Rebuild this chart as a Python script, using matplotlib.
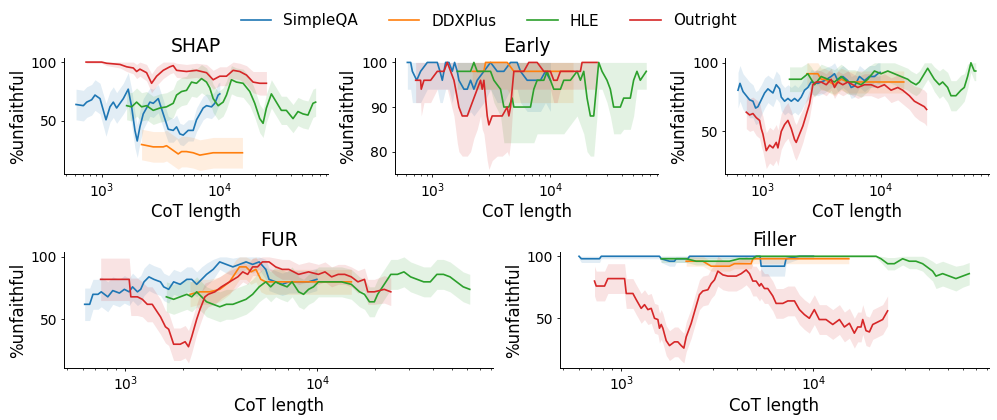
import numpy as np
import matplotlib.pyplot as plt

plt.rcParams['font.family'] = 'DejaVu Sans'
plt.rcParams['axes.spines.top'] = False
plt.rcParams['axes.spines.right'] = False
plt.rcParams['axes.linewidth'] = 0.7
plt.rcParams['xtick.labelsize'] = 10
plt.rcParams['ytick.labelsize'] = 10
# original figure was drawn larger and scaled down, so ticks/pads are short
plt.rcParams['xtick.major.size'] = 2.5
plt.rcParams['ytick.major.size'] = 2.5
plt.rcParams['xtick.minor.size'] = 1.4
plt.rcParams['xtick.major.width'] = 0.6
plt.rcParams['ytick.major.width'] = 0.6
plt.rcParams['xtick.minor.width'] = 0.5
plt.rcParams['xtick.major.pad'] = 2.5
plt.rcParams['ytick.major.pad'] = 2.5
plt.rcParams['axes.labelpad'] = 2.8
plt.rcParams['axes.titlepad'] = 4.5

datasets = ['SimpleQA', 'DDXPlus', 'HLE', 'Outright']
colors = ['#1f77b4', '#ff7f0e', '#2ca02c', '#d62728']
panel_titles = ['SHAP', 'Early', 'Mistakes', 'FUR', 'Filler']

# ---- SHAP ----
shap_simpleqa_x = [607, 700, 747, 823, 878, 968, 1088, 1176, 1255, 1339, 1525, 1679, 1793, 1913, 2000, 2108,
                   2249, 2561, 2733, 3013, 3321, 3660, 4035, 4305, 4594, 4901, 5400, 5954, 6353, 6779, 7233,
                   7718, 8504, 9078, 9686, 10000]
shap_simpleqa_y = [64, 63, 66, 68, 72, 69, 51, 62, 66, 61, 69, 77, 62, 42, 33, 45, 56, 66, 65, 69, 56, 43, 42,
                   45, 39, 38, 42, 42, 51, 56, 61, 63, 62, 65, 72, 73]
shap_simpleqa_err = [13, 13, 13, 13, 13, 13, 14, 13, 13, 13, 13, 14, 15, 15, 14, 14, 13, 12, 12, 12, 12, 11,
                     10, 10, 9, 9, 9, 9, 10, 10, 10, 10, 10, 10, 10, 10]
shap_ddxplus_x = [2178, 2733, 3321, 3543, 4035, 4447, 4745, 5230, 5954, 6779, 7718, 8788, 10000, 12970, 15550]
shap_ddxplus_y = [30, 28, 28, 29, 25, 22, 24, 24, 23, 21, 22, 23, 23, 23, 23]
shap_ddxplus_err = 13
shap_hle_x = [1627, 1793, 1977, 2178, 2400, 2733, 3112, 3543, 4035, 4305, 4745, 5230, 5765, 6353, 7003, 7718,
              8236, 8788, 9686, 10670, 11390, 12550, 13840, 15750, 17940, 19770, 21790, 23250, 24810, 27340,
              30120, 33200, 36600, 41680, 45920, 50610, 55780, 61490, 64760]
shap_hle_y = [63, 62, 66, 62, 63, 59, 61, 62, 65, 72, 75, 76, 83, 82, 86, 83, 78, 69, 63, 66, 72, 85, 83, 82,
              75, 65, 52, 48, 61, 73, 66, 59, 59, 52, 58, 56, 55, 65, 66]
shap_hle_err = 12
shap_outright_x = [738, 1000, 1102, 1429, 1627, 1853, 1977, 2108, 2400, 2647, 2917, 3321, 3780, 4035, 4305,
                   5230, 6353, 7718, 8788, 10000, 11390, 12970, 14760, 16810, 19140, 21790, 24810]
shap_outright_y = [100, 100, 99, 98, 96, 95, 92, 94, 91, 82, 88, 93, 96, 97, 93, 92, 93, 91, 85, 88, 88, 93,
                   92, 89, 83, 82, 82]
shap_outright_err = [1, 1, 2, 3, 4, 5, 6, 6, 7, 8, 8, 7, 6, 6, 6, 6, 6, 7, 8, 8, 8, 7, 7, 8, 9, 10, 10]

# ---- Early (lower band edge given, upper edge at 100) ----
early_simpleqa_x = [615, 656, 678, 738, 796, 907, 1102, 1161, 1215, 1296, 1383, 1476, 1544, 1627, 1679, 1853,
                    1977, 2108, 2249, 2400, 2733, 3112, 3543, 4035, 4594, 5230, 5579, 6353, 7233, 8236, 9078,
                    10000]
early_simpleqa_y = [100, 100, 98, 96, 98, 100, 100, 98, 96, 100, 100, 98, 100, 98, 96, 94, 94, 96, 94, 96, 98,
                    100, 98, 98, 100, 100, 98, 96, 96, 96, 98, 96]
early_simpleqa_lo = [94, 94, 91, 91, 91, 94, 94, 91, 91, 94, 94, 91, 94, 91, 89, 88, 88, 89, 88, 89, 91, 94, 91,
                     91, 94, 94, 91, 89, 89, 89, 91, 89]
early_ddxplus_x = [2178, 2733, 2823, 4305, 4901, 6779, 9377, 12970, 15550]
early_ddxplus_y = [98, 98, 100, 100, 98, 98, 98, 98, 98]
early_ddxplus_lo = [94, 94, 94, 94, 91, 91, 91, 91, 91]
early_hle_x = [1627, 2108, 2249, 2400, 3112, 3321, 3780, 4035, 4447, 4745, 4901, 6779, 7233, 7718, 8788, 9377,
               10000, 10670, 12150, 12970, 14760, 16810, 17940, 19140, 20420, 21790, 23250, 24810, 25620, 27340,
               30120, 32140, 34300, 39060, 41680, 47430, 50610, 54010, 57630, 64760]
early_hle_y = [98, 98, 100, 98, 98, 96, 94, 90, 90, 92, 90, 90, 94, 96, 96, 98, 96, 94, 94, 96, 96, 98, 96, 98,
               92, 88, 88, 96, 100, 98, 96, 94, 90, 90, 92, 92, 96, 98, 96, 98]
early_hle_lo = [94, 94, 94, 94, 94, 91, 88, 82, 82, 82, 82, 82, 82, 84, 84, 84, 84, 84, 84, 84, 86, 88, 86, 84,
                80, 79, 79, 88, 94, 94, 91, 88, 84, 84, 85, 85, 88, 94, 94, 94]
early_outright_x = [723, 796, 806, 850, 968, 1102, 1255, 1339, 1429, 1525, 1576, 1627, 1679, 1793, 1977, 2108,
                    2249, 2400, 2561, 2647, 2733, 2917, 3013, 3214, 3543, 3906, 4305, 4447, 4594, 4745, 4901,
                    5954, 6560, 7718, 8788, 10000, 10670, 11390, 12150, 14760, 17940, 18530, 24810]
early_outright_y = [96, 96, 94, 96, 96, 98, 98, 100, 98, 96, 94, 92, 90, 88, 88, 90, 92, 94, 96, 94, 96, 88, 86,
                    88, 88, 88, 90, 88, 90, 94, 98, 98, 100, 100, 98, 98, 96, 96, 98, 98, 98, 100, 100]
early_outright_lo = [91, 91, 88, 91, 91, 94, 94, 94, 91, 88, 85, 82, 80, 79, 79, 80, 83, 85, 88, 85, 84, 78, 76,
                     78, 79, 79, 80, 79, 82, 88, 94, 94, 94, 94, 94, 94, 91, 91, 94, 94, 94, 94, 94]

# ---- Mistakes ----
mistakes_simpleqa_x = [615, 639, 678, 723, 771, 823, 867, 907, 968, 1033, 1102, 1215, 1296, 1383, 1429, 1525,
                       1627, 1737, 1853, 1977, 2108, 2249, 2400, 2561, 2917, 3321, 3780, 4035, 4305, 4745, 5230,
                       5579, 5954, 6560, 7233, 7969, 8788, 9377, 9800]
mistakes_simpleqa_y = [80, 85, 79, 76, 73, 72, 67, 68, 73, 78, 81, 78, 84, 81, 75, 72, 74, 72, 74, 72, 75, 80,
                       82, 86, 85, 87, 90, 92, 87, 90, 87, 82, 83, 90, 87, 90, 90, 92, 93]
mistakes_simpleqa_err = [13, 13, 13, 13, 13, 12, 12, 12, 11, 11, 10, 10, 10, 10, 10, 10, 10, 10, 10, 10, 10, 10,
                         9, 9, 9, 9, 8, 8, 8, 8, 8, 8, 8, 8, 8, 8, 8, 8, 8]
mistakes_ddxplus_x = [2353, 2917, 3112, 3321, 4035, 4594, 5230, 6779, 8788, 10000, 12970, 15550]
mistakes_ddxplus_y = [92, 92, 88, 88, 84, 88, 86, 86, 86, 86, 86, 86]
mistakes_ddxplus_err = 8
mistakes_hle_x = [1679, 2108, 2400, 2561, 2733, 3112, 3543, 4035, 4594, 5230, 5954, 6779, 7718, 8788, 10000,
                  11390, 12970, 14760, 16810, 17940, 19770, 21090, 23250, 24810, 26460, 28230, 31120, 33200,
                  36600, 39060, 43030, 47430, 50610, 54010, 57630, 61490, 63300]
mistakes_hle_y = [88, 88, 92, 88, 84, 90, 88, 86, 90, 86, 86, 84, 88, 94, 92, 94, 92, 90, 88, 86, 84, 86, 92, 96,
                  92, 88, 84, 86, 82, 76, 76, 80, 82, 90, 100, 94, 94]
mistakes_hle_err = [9, 9, 9, 9, 9, 9, 9, 9, 9, 9, 9, 9, 9, 8, 8, 8, 8, 8, 8, 8, 8, 8, 8, 8, 8, 9, 10, 10, 11,
                    11, 11, 11, 10, 9, 7, 7, 7]
mistakes_outright_x = [723, 771, 823, 878, 937, 968, 1000, 1067, 1139, 1215, 1296, 1339, 1429, 1525, 1627, 1737,
                       1853, 1913, 2040, 2178, 2323, 2478, 2647, 2823, 3112, 3434, 3780, 4035, 4305, 4745, 5230,
                       5765, 6353, 7233, 8236, 9377, 10670, 12150, 13840, 15240, 17350, 19140, 21090, 23250, 24300]
mistakes_outright_y = [64, 62, 63, 60, 58, 52, 48, 36, 40, 38, 42, 38, 50, 55, 58, 52, 44, 42, 48, 54, 62, 70,
                       84, 86, 86, 84, 88, 82, 86, 84, 86, 84, 82, 84, 84, 82, 84, 80, 82, 80, 76, 72, 70, 68, 66]
mistakes_outright_err = [12, 12, 12, 13, 13, 13, 13, 13, 13, 13, 13, 13, 13, 13, 13, 13, 13, 13, 13, 12, 11, 10,
                         9, 9, 8, 8, 8, 8, 8, 8, 8, 8, 8, 8, 8, 8, 8, 9, 9, 10, 10, 11, 12, 12, 12]

# ---- FUR ----
fur_simpleqa_x = [615, 653, 679, 721, 750, 811, 861, 932, 989, 1048, 1091, 1157, 1203, 1252, 1328, 1409, 1525,
                  1585, 1682, 1785, 1932, 2090, 2217, 2353, 2497, 2649, 2866, 3101, 3356, 3631, 3929, 4250, 4599,
                  4975, 5383, 5599, 6061, 6558, 7096, 7677, 8318, 8995, 9930]
fur_simpleqa_y = [62, 62, 70, 70, 72, 68, 73, 71, 74, 72, 76, 72, 74, 80, 84, 82, 80, 76, 74, 80, 78, 82, 82,
                  78, 82, 86, 90, 96, 94, 92, 94, 96, 94, 96, 90, 82, 80, 78, 80, 80, 80, 80, 82]
fur_simpleqa_err = [13, 13, 12, 12, 12, 12, 11, 11, 11, 11, 11, 11, 11, 11, 11, 11, 11, 11, 11, 10, 10, 10, 10,
                    10, 10, 9, 8, 6, 7, 7, 7, 6, 7, 6, 8, 9, 9, 9, 9, 9, 9, 9, 9]
fur_ddxplus_x = [2174, 2449, 2754, 3101, 3490, 3777, 3929, 4250, 4508, 4783, 5073, 5383, 6061, 6825, 7983,
                 9725, 11850, 15010]
fur_ddxplus_y = [70, 72, 72, 74, 80, 88, 92, 92, 88, 90, 82, 80, 80, 80, 80, 80, 80, 80]
fur_ddxplus_err = 10
fur_hle_x = [1636, 1785, 1932, 2090, 2217, 2353, 2497, 2649, 2866, 3101, 3356, 3631, 3929, 4250, 4599, 4975,
             5383, 5710, 6061, 6430, 6953, 7380, 7983, 8468, 8995, 9535, 10120, 11400, 13340, 15010, 16560,
             17570, 18640, 19770, 20570, 22260, 24080, 26070, 28200, 30520, 33020, 35730, 38660, 41830, 45260,
             48970, 52980, 57330, 62030]
fur_hle_y = [68, 66, 68, 70, 68, 72, 68, 64, 62, 60, 62, 62, 64, 66, 70, 76, 80, 76, 80, 78, 76, 80, 72, 70, 74,
             76, 80, 80, 80, 78, 72, 70, 64, 64, 70, 78, 86, 86, 88, 84, 82, 80, 80, 86, 86, 84, 80, 76, 74]
fur_hle_err = 12
fur_outright_x = [745, 1048, 1069, 1157, 1227, 1302, 1381, 1465, 1525, 1618, 1682, 1785, 1932, 2049, 2133, 2217,
                  2353, 2449, 2597, 2701, 2925, 3164, 3490, 3851, 4087, 4335, 4599, 4878, 5174, 5599, 6061, 6558,
                  7096, 7983, 8995, 10120, 10950, 11850, 12820, 13870, 15010, 16240, 17570, 18280, 19770, 22260,
                  24080]
fur_outright_y = [82, 82, 68, 68, 66, 62, 62, 56, 52, 44, 42, 30, 30, 32, 28, 36, 50, 58, 68, 70, 72, 76, 80, 84,
                  88, 86, 92, 92, 96, 96, 92, 90, 90, 86, 88, 86, 88, 84, 86, 86, 84, 80, 82, 72, 72, 74, 72]
fur_outright_err = [17, 17, 15, 15, 14, 14, 14, 14, 14, 13, 13, 13, 13, 13, 13, 13, 12, 12, 11, 10, 10, 9, 9, 8,
                    8, 8, 7, 7, 6, 6, 7, 8, 8, 8, 8, 8, 8, 8, 8, 8, 8, 9, 9, 10, 10, 11, 11]

# ---- Filler ----
filler_simpleqa_x = [603, 620, 771, 787, 1581, 1614, 1783, 1892, 1932, 2222, 2266, 5280, 5345, 7066, 7206, 8455,
                     10000]
filler_simpleqa_y = [100, 98, 98, 100, 100, 98, 96, 96, 98, 98, 100, 100, 92, 92, 98, 100, 100]
filler_simpleqa_err = [2, 3, 3, 2, 2, 3, 4, 4, 3, 3, 2, 2, 8, 8, 4, 2, 2]
filler_ddxplus_x = [2178, 2659, 2939, 3656, 3883, 4742, 4839, 6269, 15280]
filler_ddxplus_y = [96, 96, 92, 92, 94, 94, 98, 98, 98]
filler_ddxplus_err = 4
filler_hle_x = [1614, 2178, 2455, 2879, 3656, 4121, 4839, 5039, 21180, 22480, 24340, 26360, 29120, 31550, 34170,
                37010, 38530, 41730, 43430, 47030, 50930, 55150, 59730, 64680]
filler_hle_y = [98, 98, 96, 96, 96, 98, 98, 100, 100, 98, 94, 94, 98, 96, 96, 94, 92, 88, 84, 86, 84, 82, 84, 86]
filler_hle_err = [3, 3, 3, 3, 3, 3, 2, 1, 1, 3, 5, 5, 5, 6, 6, 6, 7, 8, 10, 10, 10, 10, 9, 9]
filler_outright_x = [726, 741, 819, 852, 1000, 1041, 1062, 1150, 1197, 1270, 1322, 1376, 1432, 1490, 1551, 1581,
                     1614, 1647, 1714, 1783, 1892, 1971, 2051, 2118, 2178, 2313, 2455, 2553, 2659, 2824, 2939,
                     3058, 3183, 3379, 3588, 3966, 4210, 4469, 4650, 4839, 5036, 5241, 5345, 5562, 5788, 6146,
                     6396, 6931, 7358, 7968, 8455, 8973, 9524, 10110, 10730, 11630, 12610, 13660, 14500, 15390,
                     16330, 17000, 17690, 18060, 18790, 19560, 20360, 21610, 22930, 24330]
filler_outright_y = [80, 76, 76, 82, 82, 82, 70, 70, 65, 58, 61, 57, 58, 50, 49, 42, 45, 42, 32, 28, 31, 31, 28,
                     26, 35, 46, 60, 69, 72, 73, 78, 81, 88, 85, 84, 84, 86, 89, 86, 80, 80, 76, 78, 74, 74, 68,
                     62, 62, 64, 64, 57, 53, 50, 57, 49, 49, 45, 49, 43, 46, 38, 43, 43, 49, 40, 39, 45, 47, 49,
                     56]
filler_outright_err = 12

panel_series = [
    [(shap_simpleqa_x, shap_simpleqa_y, shap_simpleqa_err), (shap_ddxplus_x, shap_ddxplus_y, shap_ddxplus_err),
     (shap_hle_x, shap_hle_y, shap_hle_err), (shap_outright_x, shap_outright_y, shap_outright_err)],
    [(early_simpleqa_x, early_simpleqa_y, early_simpleqa_lo), (early_ddxplus_x, early_ddxplus_y, early_ddxplus_lo),
     (early_hle_x, early_hle_y, early_hle_lo), (early_outright_x, early_outright_y, early_outright_lo)],
    [(mistakes_simpleqa_x, mistakes_simpleqa_y, mistakes_simpleqa_err),
     (mistakes_ddxplus_x, mistakes_ddxplus_y, mistakes_ddxplus_err),
     (mistakes_hle_x, mistakes_hle_y, mistakes_hle_err),
     (mistakes_outright_x, mistakes_outright_y, mistakes_outright_err)],
    [(fur_simpleqa_x, fur_simpleqa_y, fur_simpleqa_err), (fur_ddxplus_x, fur_ddxplus_y, fur_ddxplus_err),
     (fur_hle_x, fur_hle_y, fur_hle_err), (fur_outright_x, fur_outright_y, fur_outright_err)],
    [(filler_simpleqa_x, filler_simpleqa_y, filler_simpleqa_err),
     (filler_ddxplus_x, filler_ddxplus_y, filler_ddxplus_err),
     (filler_hle_x, filler_hle_y, filler_hle_err), (filler_outright_x, filler_outright_y, filler_outright_err)],
]
panel_ylims = [(5, 103.5), (75, 101), (19, 103.5), (11, 104), (10, 103.5)]
panel_yticks = [[50, 100], [80, 90, 100], [50, 100], [50, 100], [50, 100]]

fig = plt.figure(figsize=(9.97, 4.2), dpi=100)
gs = fig.add_gridspec(2, 6, left=0.0642, right=0.992, top=0.862, bottom=0.124,
                      wspace=0.68, hspace=0.672)
axes = [fig.add_subplot(gs[0, 0:2]), fig.add_subplot(gs[0, 2:4]), fig.add_subplot(gs[0, 4:6]),
        fig.add_subplot(gs[1, 0:3]), fig.add_subplot(gs[1, 3:6])]

for k, ax in enumerate(axes):
    for (x, y, band), name, c in zip(panel_series[k], datasets, colors):
        x = np.asarray(x, dtype=float)
        y = np.asarray(y, dtype=float)
        if k == 1:
            lo = np.asarray(band, dtype=float) * np.ones_like(y)
            hi = np.full_like(y, 100.0)
        else:
            lo = y - np.asarray(band, dtype=float)
            hi = np.minimum(y + np.asarray(band, dtype=float), 100.0)
        ax.fill_between(x, lo, hi, color=c, alpha=0.13, linewidth=0)
        ax.plot(x, y, color=c, linewidth=1.2, label=name)
    ax.set_xscale('log')
    ax.set_xlim(480, 82000)
    ax.set_ylim(*panel_ylims[k])
    ax.set_yticks(panel_yticks[k])
    ax.set_title(panel_titles[k], fontsize=13.5)
    ax.set_xlabel('CoT length', fontsize=12)
    ax.set_ylabel('%unfaithful', fontsize=12)

handles, labels = axes[0].get_legend_handles_labels()
fig.legend(handles, labels, loc='center', bbox_to_anchor=(0.49, 0.95), ncol=4, frameon=False, fontsize=11)

fig.savefig('out.png', dpi=100)
